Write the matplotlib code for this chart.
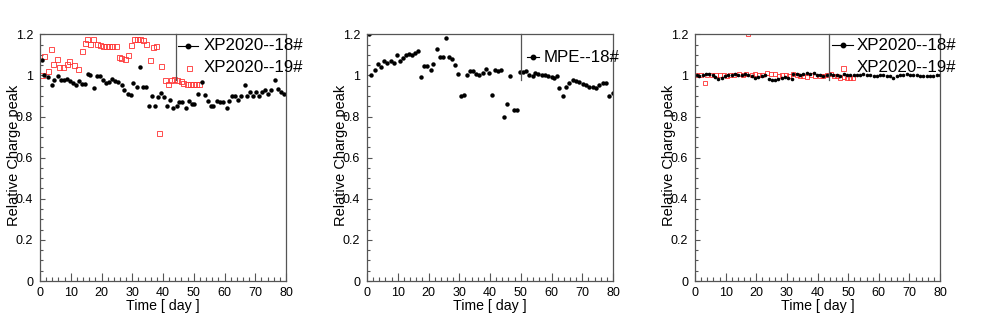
import matplotlib
matplotlib.use("Agg")
import matplotlib.pyplot as plt
from matplotlib.lines import Line2D
from matplotlib.ticker import MultipleLocator, FuncFormatter

plt.rcParams['font.family'] = ['Liberation Sans', 'DejaVu Sans']

# ---- data ----
# panel 1: XP2020--18# (black) and XP2020--19# (red)
t1 = [0.5, 1.4, 2.7, 3.8, 4.7, 5.7, 6.7, 7.8, 8.7, 9.8, 10.6, 11.7, 12.7, 13.5, 14.6,
      15.5, 16.4, 17.6, 18.4, 19.5, 20.4, 21.5, 22.5, 23.5, 24.4, 25.5, 26.6, 27.4, 28.5, 29.5,
      30.4, 31.4, 32.5, 33.4, 34.5, 35.5, 36.5, 37.4, 38.5, 39.4, 40.3, 41.2, 42.3, 43.4, 44.4,
      45.3, 46.1, 47.5, 48.3, 49.3, 50.2, 51.3, 52.6, 53.6, 54.7, 55.5, 56.4, 57.4, 58.5, 59.4,
      60.7, 61.5, 62.5, 63.4, 64.5, 65.4, 66.7, 67.4, 68.3, 69.4, 70.2, 71.2, 72.1, 73.2, 74.0,
      75.1, 76.5, 77.5, 78.5, 79.4]
v1 = [1.073, 1.0, 0.99, 0.951, 0.979, 0.995, 0.977, 0.979, 0.984, 0.973, 0.963, 0.951, 0.973, 0.96, 0.96,
      1.008, 1.0, 0.939, 0.995, 0.995, 0.977, 0.963, 0.968, 0.984, 0.973, 0.968, 0.955, 0.931, 0.908, 0.903,
      0.963, 0.943, 1.04, 0.943, 0.943, 0.849, 0.898, 0.849, 0.894, 0.914, 0.894, 0.849, 0.878, 0.843, 0.853,
      0.869, 0.869, 0.843, 0.874, 0.861, 0.861, 0.91, 0.968, 0.903, 0.874, 0.853, 0.853, 0.874, 0.869, 0.869,
      0.843, 0.874, 0.898, 0.898, 0.881, 0.898, 0.951, 0.898, 0.919, 0.898, 0.919, 0.898, 0.919, 0.927, 0.908,
      0.931, 0.979, 0.935, 0.919, 0.908]
r1_t = [0.5, 1.3, 2.5, 3.5, 4.3, 5.6, 6.3, 7.6, 8.7, 9.5, 11.1, 12.5, 13.6, 14.6, 15.4,
        16.3, 17.3, 18.4, 19.5, 20.4, 21.5, 22.4, 23.5, 24.6, 25.7, 26.5, 27.5, 28.7, 29.6, 30.5,
        31.6, 32.6, 33.6, 34.6, 35.7, 36.7, 37.7, 38.7, 39.5, 40.6, 41.6, 42.5, 43.6, 44.7, 45.7,
        46.6, 47.7, 48.7, 49.8, 50.8, 51.7]
r1_v = [1.0, 1.093, 1.021, 1.13, 1.057, 1.081, 1.04, 1.04, 1.057, 1.07, 1.049, 1.033, 1.119, 1.158, 1.176,
        1.154, 1.176, 1.154, 1.146, 1.141, 1.141, 1.141, 1.141, 1.141, 1.089, 1.086, 1.081, 1.098, 1.15, 1.176,
        1.176, 1.176, 1.17, 1.155, 1.073, 1.138, 1.141, 0.719, 1.044, 0.976, 0.96, 0.979, 0.984, 0.976, 0.972,
        0.963, 0.956, 0.956, 0.956, 0.956, 0.956]

# panel 2: MPE--18#
t2 = [0.65, 1.4, 2.5, 3.6, 4.7, 5.5, 6.6, 7.7, 8.8, 9.6, 10.7, 11.8, 12.6, 13.7, 14.7,
      15.6, 16.6, 17.7, 18.5, 19.6, 20.7, 21.6, 22.7, 23.7, 24.7, 25.6, 26.6, 27.6, 28.6, 29.7,
      30.6, 31.7, 32.5, 33.5, 34.4, 35.5, 36.5, 37.6, 38.7, 39.6, 40.5, 41.6, 42.5, 43.6, 44.7,
      45.5, 46.6, 47.7, 48.7, 49.8, 50.6, 51.7, 52.8, 53.9, 54.6, 55.7, 56.8, 57.9, 59.0, 60.1,
      60.8, 61.7, 62.5, 63.6, 64.7, 65.8, 66.9, 68.0, 69.1, 70.1, 71.2, 72.3, 73.4, 74.5, 75.6,
      76.6, 77.7, 78.8, 79.9]
v2 = [1.2, 1.0, 1.024, 1.054, 1.041, 1.07, 1.062, 1.07, 1.06, 1.098, 1.068, 1.085, 1.098, 1.102, 1.1,
      1.109, 1.117, 0.992, 1.046, 1.046, 1.024, 1.054, 1.127, 1.089, 1.089, 1.182, 1.089, 1.078, 1.052, 1.008,
      0.902, 0.907, 1.0, 1.021, 1.021, 1.008, 1.003, 1.013, 1.029, 1.013, 0.907, 1.028, 1.021, 1.024, 0.797,
      0.859, 0.995, 0.834, 0.834, 1.016, 1.016, 1.021, 1.0, 0.997, 1.011, 1.008, 1.003, 1.0, 0.995, 0.992,
      0.989, 0.995, 0.94, 0.898, 0.943, 0.963, 0.976, 0.972, 0.967, 0.959, 0.951, 0.946, 0.943, 0.94, 0.951,
      0.963, 0.963, 0.902, 0.914]

# panel 3: XP2020--18# (black) and XP2020--19# (red)
t3 = [0.5, 1.4, 2.5, 3.6, 4.7, 5.8, 6.5, 7.6, 8.7, 9.8, 10.9, 12.0, 13.1, 14.2, 15.3,
      16.3, 17.4, 18.5, 19.6, 20.7, 21.8, 22.9, 24.0, 25.1, 26.1, 27.2, 28.3, 29.4, 30.5, 31.6,
      32.1, 33.2, 34.3, 35.4, 36.5, 37.6, 38.7, 39.8, 40.8, 41.9, 43.0, 44.1, 45.2, 46.3, 47.4,
      48.5, 49.6, 50.7, 51.8, 52.9, 53.9, 55.0, 56.1, 57.2, 58.3, 59.4, 60.5, 61.5, 62.6, 63.7,
      64.8, 65.9, 67.0, 68.0, 69.1, 70.2, 71.3, 72.4, 73.5, 74.5, 75.6, 76.7, 77.8, 78.9, 79.9]
v3 = [1.0, 0.995, 1.0, 1.005, 1.008, 1.003, 0.992, 0.984, 0.989, 0.995, 1.0, 1.003, 1.005, 1.003, 1.0,
      1.005, 1.0, 0.995, 0.989, 0.992, 0.995, 1.0, 0.984, 0.979, 0.979, 0.984, 0.989, 0.992, 0.989, 0.984,
      1.008, 1.005, 1.0, 1.008, 1.011, 1.005, 1.011, 1.0, 1.003, 0.995, 1.0, 1.005, 1.0, 1.0, 0.995,
      1.005, 1.0, 1.0, 1.003, 1.0, 1.003, 1.005, 1.003, 1.0, 0.997, 0.997, 1.0, 1.003, 0.997, 0.995,
      0.989, 0.997, 1.0, 1.003, 1.005, 1.003, 1.0, 1.0, 0.997, 0.997, 0.995, 0.997, 0.995, 1.0, 1.003]
r3_t = [0.8, 1.9, 3.3, 4.0, 5.4, 6.9, 8.2, 9.5, 10.3, 11.5, 12.8, 14.5, 15.6, 16.7, 17.4,
        18.5, 19.6, 20.8, 22.0, 23.4, 24.8, 26.1, 27.3, 28.5, 29.6, 30.8, 32.0, 33.2, 34.3, 35.4,
        36.5, 37.8, 39.2, 40.8, 41.9, 43.0, 44.4, 45.3, 46.3, 47.4, 48.5, 49.6, 50.7, 51.7]
r3_v = [1.0, 1.0, 0.963, 1.0, 1.0, 1.003, 1.0, 1.0, 0.997, 1.0, 1.003, 1.008, 1.003, 1.008, 1.2,
        1.003, 1.005, 1.0, 1.003, 1.011, 1.005, 1.005, 0.997, 1.0, 1.003, 0.997, 1.005, 1.0, 0.995, 0.997,
        0.992, 1.0, 0.995, 0.995, 0.995, 1.0, 1.008, 0.997, 0.995, 0.989, 0.992, 0.989, 0.989, 0.989]

x_label = "Time [ day ]"
y_label = "Relative Charge peak"

# ---- layout (pixels of a 981x316 canvas) ----
W, H = 981, 316
frame_col = "#555555"
red = "#ff3030"


def fx(x):
    return x / W


def fy(y):
    return 1 - y / H


def ylab(v, pos):
    if abs(v) < 1e-9:
        return "0"
    if abs(v - 1) < 1e-9:
        return "1"
    return f"{v:.1f}"


def make_axes(fig, left, right, top=34.3, bottom=281.0):
    ax = fig.add_axes([fx(left), fy(bottom), (right - left) / W, (bottom - top) / H])
    ax.set_xlim(0, 80)
    ax.set_ylim(0, 1.2)
    ax.xaxis.set_major_locator(MultipleLocator(10))
    ax.xaxis.set_minor_locator(MultipleLocator(2))
    ax.yaxis.set_major_locator(MultipleLocator(0.2))
    ax.yaxis.set_minor_locator(MultipleLocator(0.05))
    ax.yaxis.set_major_formatter(FuncFormatter(ylab))
    ax.tick_params(which="both", direction="in", top=False, right=False,
                   color=frame_col, labelsize=9, width=0.8)
    ax.tick_params(axis="y", which="major", length=3.6, pad=5)
    ax.tick_params(axis="y", which="minor", length=2.2)
    ax.tick_params(axis="x", which="major", length=5.8, pad=4)
    ax.tick_params(axis="x", which="minor", length=3.0)
    for s in ax.spines.values():
        s.set_color(frame_col)
        s.set_linewidth(0.9)
    cx = (left + right) / 2
    fig.text(fx(cx), fy(306), x_label, ha="center", va="center", fontsize=10.2)
    fig.text(fx(left - 26), fy(155), y_label, rotation=90, ha="center", va="center", fontsize=10.5)
    return ax


def legend_box(fig, x, y0=34.3, y1=80):
    fig.add_artist(Line2D([fx(x), fx(x)], [fy(y0), fy(y1)], color=frame_col, lw=0.9,
                          transform=fig.transFigure))


def legend_black(fig, x0, x1, y, tx, text, ms=3.2):
    fig.add_artist(Line2D([fx(x0), fx(x1)], [fy(y), fy(y)], color="black", lw=0.8,
                          transform=fig.transFigure))
    fig.add_artist(Line2D([fx((x0 + x1) / 2)], [fy(y)], color="black", marker="o", ms=ms,
                          ls="none", transform=fig.transFigure))
    fig.text(fx(tx), fy(y), text, ha="left", va="center", fontsize=12.2)


def legend_red(fig, xm, y, tx, text, ms=3.6):
    fig.add_artist(Line2D([fx(xm)], [fy(y)], color=red, marker="s", ms=ms, mfc="none",
                          mew=0.6, ls="none", transform=fig.transFigure))
    fig.text(fx(tx), fy(y), text, ha="left", va="center", fontsize=12.2)


fig = plt.figure(figsize=(W / 100, H / 100), dpi=100)
fig.patch.set_facecolor("white")

# panel 1
ax1 = make_axes(fig, 40, 286)
ax1.plot(r1_t, r1_v, ls="none", marker="s", ms=3.6, mfc="none", mec=red, mew=0.6)
ax1.plot(t1, v1, ls="none", marker="o", ms=3.2, color="black", mew=0)
legend_box(fig, 175.7)
legend_black(fig, 178, 198, 46, 204, "XP2020--18#")
legend_red(fig, 189, 68, 204, "XP2020--19#")

# panel 2
ax2 = make_axes(fig, 367, 613)
ax2.plot(t2, v2, ls="none", marker="o", ms=3.2, color="black", mew=0)
legend_box(fig, 521)
legend_black(fig, 527, 539, 57, 544, "MPE--18#")

# panel 3
ax3 = make_axes(fig, 695, 940)
ax3.plot(r3_t, r3_v, ls="none", marker="s", ms=3.3, mfc="none", mec=red, mew=0.6)
ax3.plot(t3, v3, ls="none", marker="o", ms=2.6, color="black", mew=0)
legend_box(fig, 829)
legend_black(fig, 832, 853, 45, 857, "XP2020--18#")
legend_red(fig, 843, 68, 857, "XP2020--19#")

fig.savefig("out.png", dpi=100)
